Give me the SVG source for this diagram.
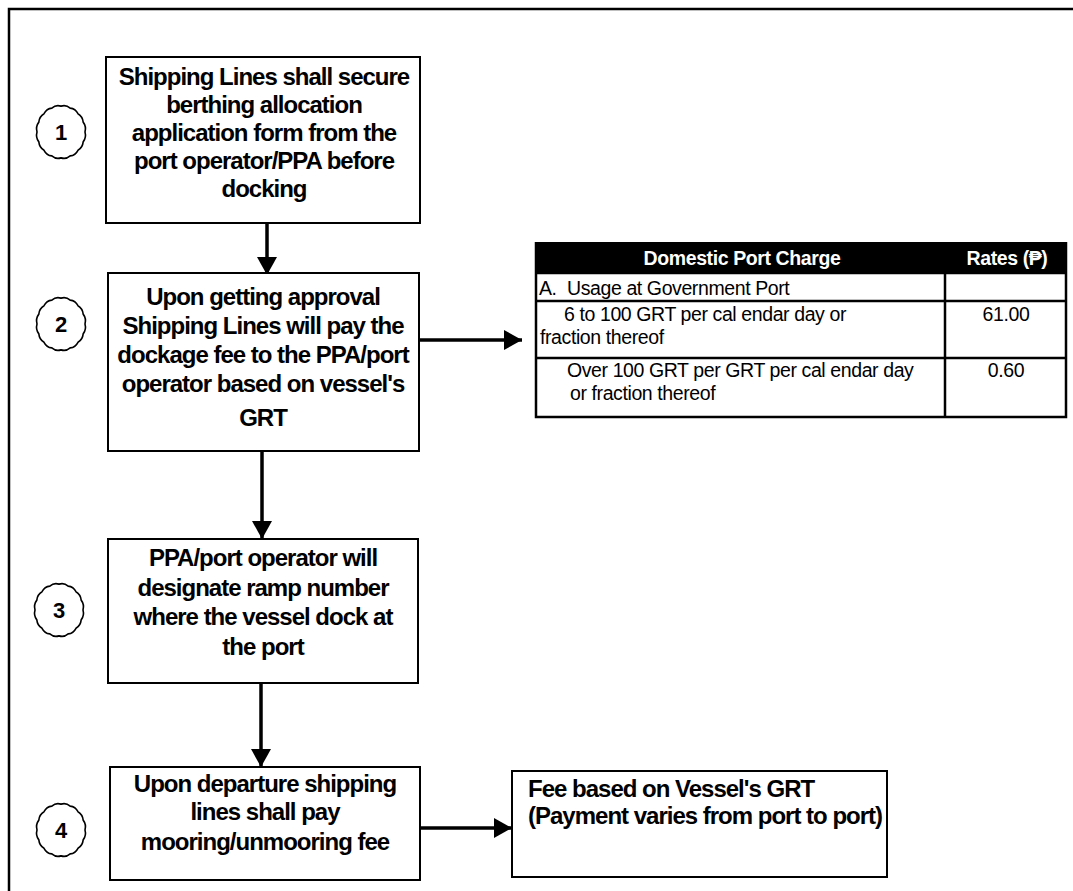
<svg xmlns="http://www.w3.org/2000/svg" width="1073" height="891" viewBox="0 0 1073 891">
  <style>
    .frame { fill: none; stroke: #000; stroke-width: 2.5; }
    .box { fill: #fff; stroke: #000; stroke-width: 2; }
    .badge { fill: #fff; stroke: #000; stroke-width: 1.6; }
    .step { font-family: "Liberation Sans", Arial, sans-serif; font-weight: bold; font-size: 24px; letter-spacing: -1px; fill: #000; text-anchor: middle; }
    .num { font-family: "Liberation Sans", Arial, sans-serif; font-weight: bold; font-size: 22px; fill: #000; text-anchor: middle; }
    .note { font-family: "Liberation Sans", Arial, sans-serif; font-weight: bold; font-size: 24px; letter-spacing: -1px; fill: #000; }
    .cell { font-family: "Liberation Sans", Arial, "DejaVu Sans", sans-serif; font-size: 19.5px; letter-spacing: -0.4px; fill: #000; }
    .head { font-family: "Liberation Sans", Arial, "DejaVu Sans", sans-serif; font-weight: bold; font-size: 19.5px; letter-spacing: -0.4px; fill: #fff; text-anchor: middle; }
    .grid { stroke: #000; stroke-width: 2.5; fill: none; }
    .link { stroke: #000; stroke-width: 3.5; fill: none; marker-end: url(#head); }
  </style>
  <defs>
    <marker id="head" markerUnits="userSpaceOnUse" markerWidth="18" markerHeight="20" refX="18" refY="10" orient="auto">
      <path d="M0,0 L18,10 L0,20 z" fill="#000"/>
    </marker>
    <!-- scalloped step badge, centred on 0,0 -->
    <path id="badgeShape" d="M24,0 A10,10 0 0 1 22.173,9.184 A10,10 0 0 1 16.971,16.971 A10,10 0 0 1 9.184,22.173 A10,10 0 0 1 0,24 A10,10 0 0 1 -9.184,22.173 A10,10 0 0 1 -16.971,16.971 A10,10 0 0 1 -22.173,9.184 A10,10 0 0 1 -24,0 A10,10 0 0 1 -22.173,-9.184 A10,10 0 0 1 -16.971,-16.971 A10,10 0 0 1 -9.184,-22.173 A10,10 0 0 1 0,-24 A10,10 0 0 1 9.184,-22.173 A10,10 0 0 1 16.971,-16.971 A10,10 0 0 1 22.173,-9.184 A10,10 0 0 1 24,0 Z"/>
  </defs>

  <!-- page frame -->
  <path class="frame" d="M9,891 V9 H1073"/>

  <!-- step badges -->
  <g id="badge1">
    <use href="#badgeShape" class="badge" transform="translate(61,132) scale(1,1.08)"/>
    <text class="num" x="61" y="140">1</text>
  </g>
  <g id="badge2">
    <use href="#badgeShape" class="badge" transform="translate(61,324) scale(1,1.08)"/>
    <text class="num" x="61" y="332">2</text>
  </g>
  <g id="badge3">
    <use href="#badgeShape" class="badge" transform="translate(59,610) scale(1,1.08)"/>
    <text class="num" x="59" y="618">3</text>
  </g>
  <g id="badge4">
    <use href="#badgeShape" class="badge" transform="translate(61,830) scale(1,1.08)"/>
    <text class="num" x="61" y="838">4</text>
  </g>

  <!-- connectors -->
  <g id="connectors">
    <line class="link" x1="267" y1="223" x2="267" y2="275"/>
    <line class="link" x1="262" y1="450" x2="262" y2="539"/>
    <line class="link" x1="261" y1="683" x2="261" y2="767"/>
    <line class="link" x1="418" y1="340" x2="522" y2="340"/>
    <line class="link" x1="420" y1="828" x2="512" y2="828"/>
  </g>

  <!-- step 1 -->
  <g id="step1">
    <rect class="box" x="106" y="57" width="314" height="166"/>
    <text class="step" x="264" y="85">Shipping Lines shall secure</text>
    <text class="step" x="264" y="113">berthing allocation</text>
    <text class="step" x="264" y="141">application form from the</text>
    <text class="step" x="264" y="169">port operator/PPA before</text>
    <text class="step" x="264" y="197">docking</text>
  </g>

  <!-- step 2 -->
  <g id="step2">
    <rect class="box" x="108" y="273" width="311" height="178"/>
    <text class="step" x="263" y="305">Upon getting approval</text>
    <text class="step" x="263" y="334">Shipping Lines will pay the</text>
    <text class="step" x="263" y="363">dockage fee to the PPA/port</text>
    <text class="step" x="263" y="392">operator based on vessel's</text>
    <text class="step" x="263" y="426">GRT</text>
  </g>

  <!-- step 3 -->
  <g id="step3">
    <rect class="box" x="108" y="539" width="310" height="144"/>
    <text class="step" x="263" y="566">PPA/port operator will</text>
    <text class="step" x="263" y="596">designate ramp number</text>
    <text class="step" x="263" y="625">where the vessel dock at</text>
    <text class="step" x="263" y="655">the port</text>
  </g>

  <!-- step 4 -->
  <g id="step4">
    <rect class="box" x="110" y="767" width="310" height="113"/>
    <text class="step" x="265" y="792">Upon departure shipping</text>
    <text class="step" x="265" y="820">lines shall pay</text>
    <text class="step" x="265" y="850">mooring/unmooring fee</text>
  </g>

  <!-- dockage rate table -->
  <g id="rateTable">
    <rect x="536" y="242" width="530" height="31" fill="#000"/>
    <text class="head" x="742" y="265">Domestic Port Charge</text>
    <text class="head" x="1007" y="265">Rates (₱)</text>
    <path class="grid" d="M536,242 V417 H1066 V242 M536,273 H1066 M536,301 H1066 M536,358 H1066 M945,273 V417"/>
    <text class="cell" x="539" y="295">A.</text>
    <text class="cell" x="567" y="295">Usage at Government Port</text>
    <text class="cell" x="564" y="321">6 to 100 GRT per cal endar day or</text>
    <text class="cell" x="540" y="344">fraction thereof</text>
    <text class="cell" x="1006" y="321" text-anchor="middle">61.00</text>
    <text class="cell" x="567" y="377">Over 100 GRT per GRT per cal endar day</text>
    <text class="cell" x="570" y="400">or fraction thereof</text>
    <text class="cell" x="1006" y="377" text-anchor="middle">0.60</text>
  </g>

  <!-- mooring fee note -->
  <g id="feeNote">
    <rect class="box" x="512" y="771" width="375" height="106"/>
    <text class="note" x="528" y="797">Fee based on Vessel's GRT</text>
    <text class="note" x="528" y="824">(Payment varies from port to port)</text>
  </g>
</svg>
